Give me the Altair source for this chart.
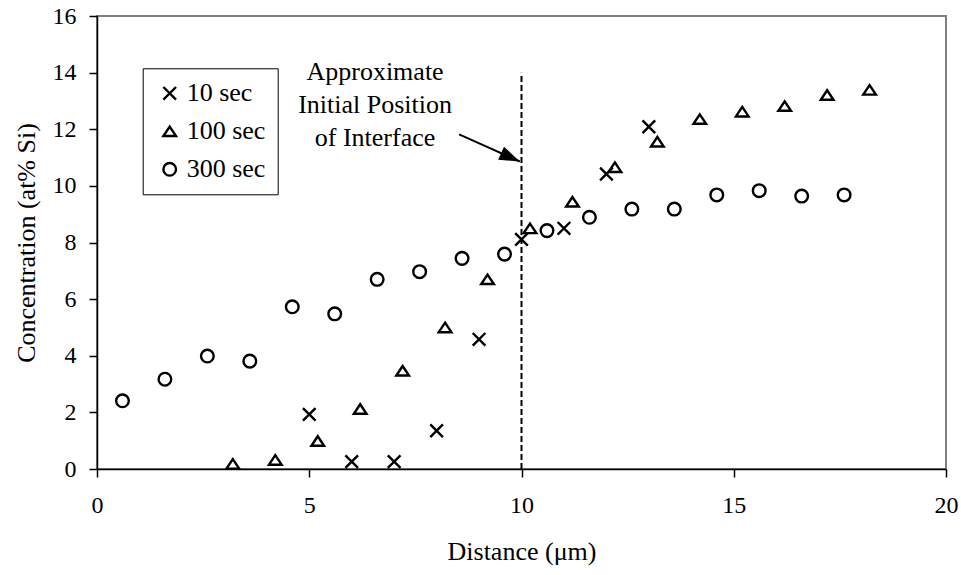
import altair as alt
import pandas as pd

# ---------------- data ----------------
series_names = ["10 sec", "100 sec", "300 sec"]

dist_10 = [5.0, 6.0, 7.0, 8.0, 9.0, 10.0, 11.0, 12.0, 13.0]
conc_10 = [1.93, 0.26, 0.26, 1.35, 4.58, 8.11, 8.50, 10.42, 12.09]

dist_100 = [3.2, 4.2, 5.2, 6.2, 7.2, 8.2, 9.2, 10.2, 11.2, 12.2, 13.2, 14.2, 15.2, 16.2, 17.2, 18.2]
conc_100 = [0.18, 0.32, 0.99, 2.12, 3.47, 5.00, 6.70, 8.50, 9.44, 10.66, 11.56, 12.36, 12.62, 12.82, 13.21, 13.39]

dist_300 = [0.6, 1.6, 2.6, 3.6, 4.6, 5.6, 6.6, 7.6, 8.6, 9.6, 10.6, 11.6, 12.6, 13.6, 14.6, 15.6, 16.6, 17.6]
conc_300 = [2.41, 3.17, 3.99, 3.81, 5.73, 5.48, 6.70, 6.97, 7.44, 7.59, 8.42, 8.89, 9.18, 9.18, 9.68, 9.83, 9.64, 9.68]

x_ticks = [0, 5, 10, 15, 20]
y_ticks = [0, 2, 4, 6, 8, 10, 12, 14, 16]

interface_x = [10.0]
interface_bottom = [0.0]
interface_top = [14.0]

arrow_x = [8.53]
arrow_y = [11.82]
arrow_tip_x = [9.96]
arrow_tip_y = [10.86]

annotation_lines = ["Approximate", "Initial Position", "of Interface"]
annotation_x = [6.55]
annotation_y = [14.48]

x_title = "Distance (μm)"
y_title = "Concentration (at% Si)"

# ---------------- styling ----------------
FONT = "Liberation Serif"
X_PATH = "M-1,-1L1,1M-1,1L1,-1"
TRI_PATH = "M0,-0.75L1,0.75L-1,0.75Z"
ARROW_PATH = "M0,0L-2,-0.7L-2,0.7Z"

rows = []
for name, xs, ys in [("10 sec", dist_10, conc_10),
                     ("100 sec", dist_100, conc_100),
                     ("300 sec", dist_300, conc_300)]:
    rows += [{"series": name, "x": a, "y": b} for a, b in zip(xs, ys)]
df = pd.DataFrame(rows)

xscale = alt.Scale(domain=[0, 20], nice=False, zero=False)
yscale = alt.Scale(domain=[0, 16], nice=False)

x_axis = alt.Axis(values=x_ticks, labelPadding=16, titleX=424.5, titleY=90,
                  titleBaseline="alphabetic", titleAlign="center", labelFlush=False)
y_axis = alt.Axis(values=y_ticks, labelPadding=13, titleX=-63, titleY=226.5,
                  titleAngle=270, titleAlign="center", titleBaseline="alphabetic")

X = alt.X("x:Q", scale=xscale, axis=x_axis, title=x_title)
Y = alt.Y("y:Q", scale=yscale, axis=y_axis, title=y_title)

SYM_SIZE = 160
SYM_STROKE = 2.4

points = alt.Chart(df).mark_point(
    filled=False, color="black", strokeWidth=SYM_STROKE, size=SYM_SIZE, opacity=1
).encode(
    x=X, y=Y,
    shape=alt.Shape(
        "series:N",
        scale=alt.Scale(domain=series_names, range=[X_PATH, TRI_PATH, "circle"]),
        legend=alt.Legend(
            title=None, orient="none", legendX=45.7, legendY=52.3,
            direction="vertical", strokeColor="black", fillColor="white",
            padding=12, rowPadding=12, symbolOffset=2, labelOffset=4,
            labelFont=FONT, labelFontSize=26, labelColor="black",
            symbolSize=SYM_SIZE, symbolStrokeWidth=SYM_STROKE, symbolStrokeColor="black",
            cornerRadius=0,
        ),
    ),
)

rule_df = pd.DataFrame({"x": interface_x, "y": interface_bottom, "y2": interface_top})
rule = alt.Chart(rule_df).mark_rule(color="black", strokeWidth=2, strokeDash=[6, 3]).encode(
    x=alt.X("x:Q", scale=xscale, title=x_title),
    y=alt.Y("y:Q", scale=yscale, title=y_title),
    y2="y2:Q",
)

arrow_df = pd.DataFrame({"x": arrow_x, "y": arrow_y, "x2": arrow_tip_x, "y2": arrow_tip_y})
arrow_line = alt.Chart(arrow_df).mark_rule(color="black", strokeWidth=2).encode(
    x=alt.X("x:Q", scale=xscale, title=x_title),
    y=alt.Y("y:Q", scale=yscale, title=y_title),
    x2="x2:Q", y2="y2:Q",
)

tip_df = pd.DataFrame({"x": arrow_tip_x, "y": arrow_tip_y})
arrow_head = alt.Chart(tip_df).mark_point(
    shape=ARROW_PATH, filled=True, color="black", size=420, angle=24, opacity=1, strokeWidth=0
).encode(
    x=alt.X("x:Q", scale=xscale, title=x_title),
    y=alt.Y("y:Q", scale=yscale, title=y_title),
)

text_df = pd.DataFrame({"x": annotation_x, "y": annotation_y})
annotation = alt.Chart(text_df).mark_text(
    text=annotation_lines, align="center", baseline="top", font=FONT,
    fontSize=26, lineHeight=33, color="black"
).encode(
    x=alt.X("x:Q", scale=xscale, title=x_title),
    y=alt.Y("y:Q", scale=yscale, title=y_title),
)

chart = alt.layer(rule, arrow_line, arrow_head, annotation, points).properties(
    width=849, height=453,
    autosize=alt.AutoSizeParams(type="none"),
    padding={"left": 97, "top": 16, "right": 15, "bottom": 106},
    background="white",
).configure_view(
    stroke="#808080", strokeWidth=2
).configure_axis(
    grid=False, domainColor="black", domainWidth=1.5,
    tickColor="black", tickWidth=1.5, tickSize=8,
    labelFont=FONT, labelFontSize=24, labelColor="black",
    titleFont=FONT, titleFontSize=26, titleColor="black", titleFontWeight="normal",
)

chart.save("out.html", embed_options={"renderer": "svg", "actions": False})
